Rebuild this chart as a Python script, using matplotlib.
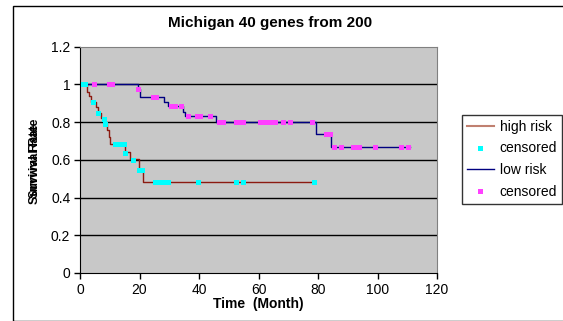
import matplotlib.pyplot as plt
from matplotlib.lines import Line2D
from matplotlib.patches import Rectangle

plt.rcParams['font.family'] = ['Liberation Sans', 'DejaVu Sans']

# Kaplan-Meier steps (time in months, survival)
high_times = [0, 2.2, 3.0, 3.8, 5.4, 6.2, 7.1, 8.2, 9.2, 9.8, 10.2, 15.2, 16.8, 19.9, 21.2, 78.8]
high_surv = [1.0, 0.96, 0.94, 0.908, 0.88, 0.85, 0.82, 0.788, 0.755, 0.72, 0.682, 0.642, 0.602, 0.545, 0.48, 0.48]

high_cens_t = [1.0, 1.8, 4.5, 6.2, 8.2, 8.5, 11.9, 12.9, 13.8, 14.8, 15.0, 17.8,
               19.9, 21.0, 25.2, 26.2, 27.2, 28.2, 29.5, 39.8, 52.6, 54.8, 78.8]
high_cens_s = [1.0, 1.0, 0.908, 0.85, 0.818, 0.788, 0.682, 0.682, 0.682, 0.682, 0.637, 0.597,
               0.545, 0.545, 0.48, 0.48, 0.48, 0.48, 0.48, 0.48, 0.48, 0.48, 0.48]

low_times = [0, 19.4, 20.1, 28.1, 29.6, 34.7, 35.3, 45.7, 79.4, 84.3, 111.0]
low_surv = [1.0, 0.975, 0.935, 0.905, 0.885, 0.855, 0.832, 0.80, 0.735, 0.665, 0.665]

low_cens_t = [4.8, 9.6, 10.8, 19.6, 24.5, 25.7, 30.6, 31.9, 34.0, 36.3, 39.4, 40.2, 43.8,
              46.8, 48.0, 52.5, 53.5, 54.8, 60.5, 61.5, 62.5, 63.8, 65.7, 68.3, 70.6, 78.1,
              82.6, 84.0, 85.3, 87.8, 91.7, 92.7, 93.8, 99.2, 108.0, 110.3]
low_cens_s = [1.0, 1.0, 1.0, 0.977, 0.935, 0.935, 0.885, 0.885, 0.885, 0.832, 0.832, 0.832, 0.832,
              0.80, 0.80, 0.80, 0.80, 0.80, 0.80, 0.80, 0.80, 0.80, 0.80, 0.80, 0.80, 0.80,
              0.735, 0.735, 0.665, 0.665, 0.665, 0.665, 0.665, 0.665, 0.665, 0.665]

labels = ['high risk', 'censored', 'low risk', 'censored']

W, H = 563, 321
fig = plt.figure(figsize=(W / 100, H / 100), dpi=100)
ax = fig.add_axes([80 / W, 1 - 273 / H, 357 / W, 226.5 / H])
ax.set_facecolor('#c8c8c8')

for y in [0.2, 0.4, 0.6, 0.8, 1.0]:
    ax.axhline(y, color='black', lw=1, zorder=1)

red = '#8b1a10'
navy = '#000080'
ax.step(high_times, high_surv, where='post', color=red, lw=1, zorder=2)
ax.plot(high_cens_t, high_cens_s, 's', color='#00ffff', ms=3.6, mew=0, zorder=3)
ax.step(low_times, low_surv, where='post', color=navy, lw=1, zorder=2)
ax.plot(low_cens_t, low_cens_s, 's', color='#ff40ff', ms=3.6, mew=0, zorder=3)

ax.set_xlim(0, 120)
ax.set_ylim(0, 1.2)
ax.set_xticks([0, 20, 40, 60, 80, 100, 120])
ax.set_yticks([0, 0.2, 0.4, 0.6, 0.8, 1, 1.2])
ax.set_yticklabels(['0', '0.2', '0.4', '0.6', '0.8', '1', '1.2'])
ax.tick_params(direction='out', length=4, width=1, labelsize=10, color='black', pad=3)
for s in ['top', 'right']:
    ax.spines[s].set_color('#808080')
for s in ['left', 'bottom']:
    ax.spines[s].set_color('black')

ax.set_xlabel('Time  (Month)', fontsize=10, fontweight='bold', labelpad=0)
# the source chart shows two overlapping y titles
fig.text(35 / W, 1 - 158 / H, 'Survival Rate', rotation=90, fontsize=9, fontweight='bold',
         ha='center', va='center')
fig.text(35 / W, 1 - 164 / H, 'Survival Rate', rotation=90, fontsize=9, fontweight='bold',
         ha='center', va='center')
fig.text(270.5 / W, 1 - 23 / H, 'Michigan 40 genes from 200', fontsize=11,
         fontweight='bold', ha='center', va='center')

handles = [Line2D([], [], color='#c08070', lw=1.5),
           Line2D([], [], marker='s', ls='none', color='#00ffff', ms=3.6, mew=0),
           Line2D([], [], color=navy, lw=1),
           Line2D([], [], marker='s', ls='none', color='#ff40ff', ms=3.6, mew=0)]
leg = fig.legend(handles, labels, loc='upper left', mode='expand',
                 bbox_to_anchor=(462 / W, 1 - 204 / H, 100 / W, 89 / H),
                 fontsize=10, frameon=True, fancybox=False, borderpad=0.35,
                 handlelength=1.95, handletextpad=0.4, labelspacing=0.55,
                 borderaxespad=0, numpoints=1)
leg.get_frame().set_edgecolor('black')
leg.get_frame().set_linewidth(1)

# chart-area border, right edge runs off the image
fig.patches.append(Rectangle((13 / W, 0.5 / H), 560 / W, 315 / H, transform=fig.transFigure,
                             fill=False, edgecolor='black', lw=1))

fig.savefig('out.png', dpi=100)
